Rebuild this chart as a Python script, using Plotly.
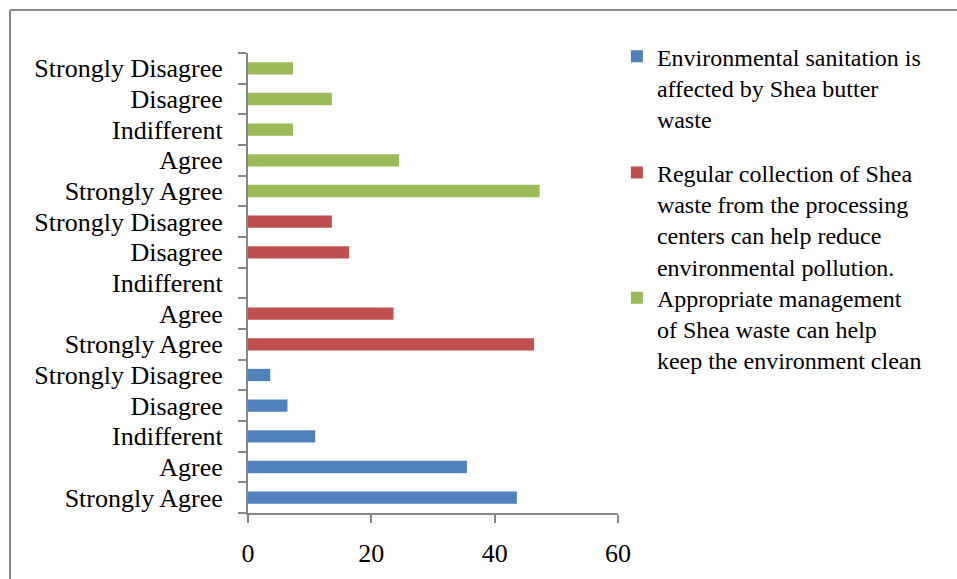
import plotly.graph_objects as go

# Response categories, listed bottom-to-top within each statement block
responses = ["Strongly Agree", "Agree", "Indifferent", "Disagree", "Strongly Disagree"]

# Percentage of respondents per response for each statement
sanitation_affected = [43.6, 35.5, 10.9, 6.4, 3.6]
regular_collection = [46.4, 23.6, 0.0, 16.4, 13.6]
appropriate_management = [47.3, 24.5, 7.3, 13.6, 7.3]

series_names = [
    "Environmental sanitation is<br>affected by Shea butter<br>waste",
    "Regular collection of Shea<br>waste from the processing<br>centers can help reduce<br>environmental pollution.",
    "Appropriate management<br>of Shea waste can help<br>keep the environment clean",
]
series_values = [sanitation_affected, regular_collection, appropriate_management]
series_colors = ["#4F81BD", "#C0504D", "#9BBB59"]
legend_ids = ["legend", "legend2", "legend3"]

x_ticks = [0, 20, 40, 60]

FONT = "Liberation Serif"
AXIS_GRAY = "#868686"

fig = go.Figure()

n = len(responses)
positions_all = []
labels_all = []
for g, (name, vals, color, leg) in enumerate(zip(series_names, series_values, series_colors, legend_ids)):
    pos = [g * n + i for i in range(n)]
    positions_all += pos
    labels_all += responses
    fig.add_trace(go.Bar(
        x=vals,
        y=pos,
        orientation="h",
        name=name,
        width=0.4,
        marker=dict(color=color, line=dict(width=0)),
        legend=leg,
    ))

# One legend per statement so each block sits at its own height
legend_tops = [1.041, 0.788, 0.516]
legend_style = [
    dict(
        x=0.997,
        xanchor="left",
        y=top,
        yanchor="top",
        font=dict(family=FONT, size=24, color="black"),
        bgcolor="rgba(0,0,0,0)",
        borderwidth=0,
        valign="top",
        itemwidth=30,
        itemclick=False,
    )
    for top in legend_tops
]

fig.update_layout(
    width=957,
    height=579,
    margin=dict(l=248, r=339, t=53, b=66),
    paper_bgcolor="white",
    plot_bgcolor="white",
    font=dict(family=FONT, size=26, color="black"),
    showlegend=True,
    legend=legend_style[0],
    legend2=legend_style[1],
    legend3=legend_style[2],
)

fig.update_xaxes(
    range=[0, 60],
    tickvals=x_ticks,
    ticktext=[str(v) for v in x_ticks],
    ticks="outside",
    ticklen=8,
    tickwidth=2,
    tickcolor=AXIS_GRAY,
    showline=True,
    linecolor=AXIS_GRAY,
    linewidth=2,
    showgrid=False,
    zeroline=False,
    tickfont=dict(family=FONT, size=26),
    ticklabelstandoff=8,
)

fig.update_yaxes(
    range=[-0.5, len(positions_all) - 0.5],
    tickvals=positions_all,
    ticktext=labels_all,
    ticks="",
    showline=True,
    linecolor=AXIS_GRAY,
    linewidth=2,
    showgrid=False,
    zeroline=False,
    tickfont=dict(family=FONT, size=26),
    ticklabelstandoff=18,
    minor=dict(
        tickvals=[p - 0.5 for p in positions_all] + [positions_all[-1] + 0.5],
        ticks="outside",
        ticklen=8,
        tickwidth=2,
        tickcolor=AXIS_GRAY,
        showgrid=False,
    ),
)

# Outer chart frame (left and top edges)
plot_w = 957 - 248 - 339
plot_h = 579 - 53 - 66
fx = (10 - 248) / plot_w
fy = (513 - 10) / plot_h
fig.add_shape(type="line", xref="paper", yref="paper", x0=fx, x1=fx, y0=-0.5, y1=fy,
              line=dict(color="#8A8A8A", width=2))
fig.add_shape(type="line", xref="paper", yref="paper", x0=fx, x1=2.0, y0=fy, y1=fy,
              line=dict(color="#8A8A8A", width=2))

fig.write_html("out.html")
